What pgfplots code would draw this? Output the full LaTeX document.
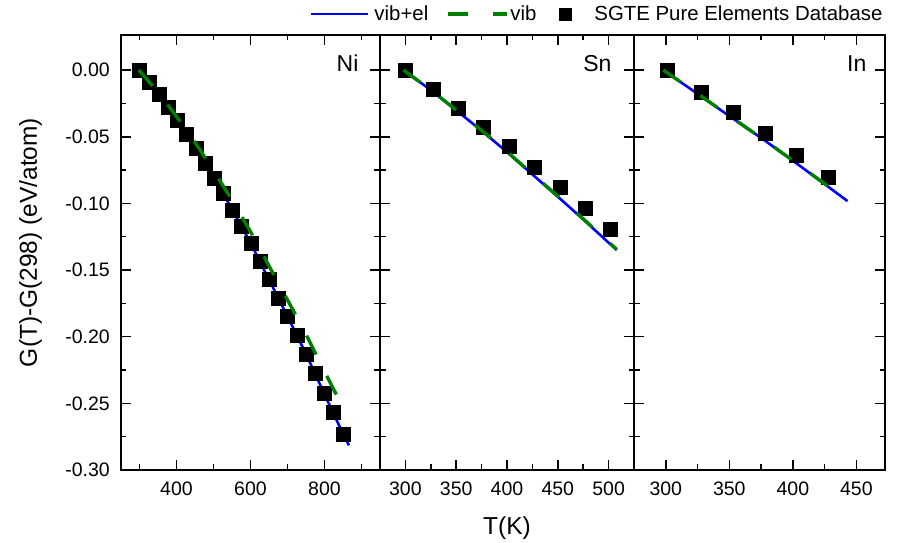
\documentclass[border=0pt]{standalone}
\usepackage{fontspec}
\setmainfont{Liberation Sans}
\usepackage{pgfplots}
\pgfplotsset{compat=1.18}
\definecolor{ogreen}{RGB}{0,128,0}
\definecolor{oblue}{RGB}{0,0,255}
\pgfplotsset{
  panel/.style={
    scale only axis, anchor=south west, height=435pt,
    ymin=-0.30, ymax=0.0263,
    ytick={-0.30,-0.25,-0.20,-0.15,-0.10,-0.05,0.00},
    minor ytick={-0.275,-0.225,-0.175,-0.125,-0.075,-0.025},
    tick align=inside,
    clip marker paths=true,
    axis line style={line width=1.8pt, black},
    every tick/.style={black, line width=1.6pt},
    major tick length=10pt, minor tick length=5.5pt,
    tick label style={font=\fontsize{19.5}{22}\selectfont},
    xticklabel style={anchor=base, yshift=-26pt, inner sep=0pt},
    yticklabel style={anchor=east, xshift=-11pt, inner sep=0pt},
    /pgf/number format/assume math mode=true,
  },
  vibel/.style={oblue, line width=2.6pt},
  vib/.style={ogreen, line width=3.4pt, dash pattern=on 21pt off 24pt},
  sgte/.style={only marks, mark=square*, mark size=7pt, black, mark options={fill=black}},
  legA/.style={legend image code/.code={%
      \path[draw=none,fill=none] (0pt,-1pt) rectangle (63pt,1pt);
      \draw[##1] (0pt,0pt) -- (57pt,0pt);}},
  legB/.style={legend image code/.code={%
      \path[draw=none,fill=none] (0pt,-1pt) rectangle (82pt,1pt);
      \draw[##1] (20pt,0pt) -- (79pt,0pt);}},
  legC/.style={legend image code/.code={%
      \path[draw=none,fill=none] (0pt,-1pt) rectangle (58pt,1pt);
      \path[##1] plot coordinates {(29pt,0pt)};}},
}
\begin{document}
\begin{tikzpicture}
\path[use as bounding box] (0pt,0pt) rectangle (898pt,543pt);
% ---------------- Ni ----------------
\begin{axis}[panel, at={(121pt,73pt)}, width=259pt, xmin=250, xmax=950,
  xtick={400,600,800}, xticklabels={400,600,800}, minor xtick={300,500,700,900},
  yticklabels={-0.30,-0.25,-0.20,-0.15,-0.10,-0.05,0.00},
  ylabel={G(T)-G(298) (eV/atom)},
  ylabel style={at={([xshift=-84pt]axis description cs:0,0.523)}, anchor=base, font=\fontsize{24.5}{28}\selectfont},
  legend columns=-1,
  legend cell align=left,
  legend style={at={([yshift=21pt]axis description cs:0.7297,1)}, anchor=west, draw=none, fill=none, inner sep=0pt, column sep=0pt, font=\fontsize{20.4}{24}\selectfont, nodes={inner sep=0pt}},
]
\addlegendimage{oblue, line width=2.6pt, legA}
\addlegendentry{vib+el}
\addlegendimage{ogreen, line width=3.4pt, dash pattern=on 20pt off 25pt, legB}
\addlegendentry{vib}
\addlegendimage{black, mark=square*, mark size=6pt, mark options={fill=black}, legC}
\addlegendentry{SGTE Pure Elements Database}
\addplot[vibel, forget plot] coordinates {
(298,0) (350,-0.0175) (400,-0.0370) (450,-0.0578) (500,-0.0802) (550,-0.1043)
(600,-0.1296) (650,-0.1572) (700,-0.1848) (750,-0.2130) (800,-0.2432) (850,-0.2728) (866,-0.2815)};
\addplot[sgte, forget plot] coordinates {
(299,0) (326,-0.0088) (352,-0.0180) (377,-0.0278) (402,-0.0375) (427,-0.0478)
(452,-0.0586) (477,-0.0697) (502,-0.0810) (527,-0.0925) (551,-0.1048) (576,-0.1172)
(601,-0.1300) (625,-0.1435) (650,-0.1572) (676,-0.1710) (700,-0.1848) (725,-0.1990)
(750,-0.2130) (775,-0.2276) (799,-0.2425) (824,-0.2570) (850,-0.2728)};
\addplot[vib, forget plot] coordinates {
(298,0) (350,-0.0165) (400,-0.0348) (450,-0.0543) (500,-0.0752) (550,-0.0977)
(600,-0.1212) (650,-0.1469) (700,-0.1724) (750,-0.1983) (800,-0.2261) (850,-0.2532)};
\node[anchor=base east, font=\fontsize{23}{26}\selectfont] at (rel axis cs:0.9305,0.917) {Ni};
\end{axis}
% ---------------- Sn ----------------
\begin{axis}[panel, at={(380pt,73pt)}, width=254pt, xmin=275, xmax=525,
  xtick={300,350,400,450,500}, xticklabels={300,350,400,450,500}, minor xtick={325,375,425,475},
  yticklabels={},
  xlabel={T(K)},
  xlabel style={at={([yshift=-65pt]axis description cs:0.5,0)}, anchor=base, font=\fontsize{24.5}{28}\selectfont},
]
\addplot[vibel] coordinates {
(298,0) (325,-0.0150) (350,-0.0302) (375,-0.0455) (400,-0.0615) (425,-0.0783)
(450,-0.0950) (475,-0.1120) (500,-0.1295) (508,-0.1350)};
\addplot[sgte] coordinates {
(300,0) (327,-0.0145) (352,-0.0287) (377,-0.0430) (402,-0.0568) (427,-0.0725)
(452,-0.0875) (477,-0.1037) (502,-0.1197)};
\addplot[vib] coordinates {
(298,0) (325,-0.0149) (350,-0.0300) (375,-0.0453) (400,-0.0612) (425,-0.0780)
(450,-0.0946) (475,-0.1116) (500,-0.1290) (508,-0.1345)};
\node[anchor=base east, font=\fontsize{23}{26}\selectfont] at (rel axis cs:0.925,0.917) {Sn};
\end{axis}
% ---------------- In ----------------
\begin{axis}[panel, at={(634pt,73pt)}, width=251pt, xmin=275, xmax=472.5,
  xtick={300,350,400,450}, xticklabels={300,350,400,450}, minor xtick={325,375,425},
  yticklabels={},
]
\addplot[vibel] coordinates {
(298,0) (325,-0.0178) (350,-0.0345) (375,-0.0509) (400,-0.0680) (425,-0.0855) (443,-0.0983)};
\addplot[sgte] coordinates {
(301,0) (328,-0.0163) (353,-0.0318) (378,-0.0475) (403,-0.0636) (428,-0.0804)};
\addplot[vib] coordinates {
(298,0) (325,-0.0177) (350,-0.0344) (375,-0.0508) (400,-0.0679) (425,-0.0853) (431,-0.0895)};
\node[anchor=base east, font=\fontsize{23}{26}\selectfont] at (rel axis cs:0.940,0.917) {In};
\end{axis}
\end{tikzpicture}
\end{document}
